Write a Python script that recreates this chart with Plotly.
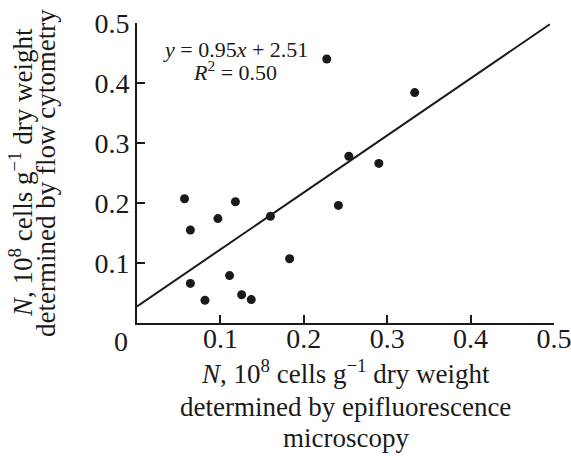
import plotly.graph_objects as go

# Data
x_epi = [0.057, 0.118, 0.097, 0.064, 0.160, 0.183, 0.111, 0.064, 0.0815, 0.1255,
         0.137, 0.2415, 0.2275, 0.333, 0.254, 0.290]
y_flow = [0.207, 0.202, 0.174, 0.155, 0.178, 0.107, 0.079, 0.066, 0.038, 0.047,
          0.039, 0.196, 0.440, 0.384, 0.278, 0.266]

fit_slope = 0.95
fit_intercept = 0.0276
fit_x_range = [0.0, 0.495]

x_tick_vals = [0.1, 0.2, 0.3, 0.4, 0.5]
x_tick_text = ["0.1", "0.2", "0.3", "0.4", "0.5"]
y_tick_vals = [0.1, 0.2, 0.3, 0.4, 0.5]
y_tick_text = ["0.1", "0.2", "0.3", "0.4", "0.5"]

x_title_lines = ["<i>N</i>, 10<sup>8</sup> cells g<sup>\u22121</sup> dry weight",
                 "determined by epifluorescence",
                 "microscopy"]
y_title_lines = ["<i>N</i>, 10<sup>8</sup> cells g<sup>\u22121</sup> dry weight",
                 "determined by flow cytometry"]
eq_lines = ["<i>y</i> = 0.95<i>x</i> + 2.51", "<i>R</i><sup>2</sup> = 0.50"]

FONT = "Liberation Serif"
INK = "#1a1a1a"

fit_y = [fit_slope * v + fit_intercept for v in fit_x_range]

fig = go.Figure()
fig.add_trace(go.Scatter(x=fit_x_range, y=fit_y, mode="lines",
                         line=dict(color=INK, width=2), showlegend=False,
                         hoverinfo="skip"))
fig.add_trace(go.Scatter(x=x_epi, y=y_flow, mode="markers",
                         marker=dict(color=INK, size=9), showlegend=False))

annotations = []
# x-axis origin label
annotations.append(dict(x=0, y=0, xref="x", yref="paper", text="0", showarrow=False,
                        xanchor="center", yanchor="top", xshift=-16, yshift=-1,
                        font=dict(family=FONT, size=28, color=INK)))
# x-axis title (three lines)
for txt, dy in zip(x_title_lines, [-49, -84, -115]):
    annotations.append(dict(x=0.5, y=0, xref="paper", yref="paper", text=txt,
                            showarrow=False, xanchor="center", yanchor="middle",
                            yshift=dy, font=dict(family=FONT, size=27, color=INK)))
# y-axis title (two lines, rotated)
for txt, dx in zip(y_title_lines, [-116, -91]):
    annotations.append(dict(x=0, y=0.5, xref="paper", yref="paper", text=txt,
                            showarrow=False, xanchor="center", yanchor="middle",
                            textangle=-90, xshift=dx,
                            font=dict(family=FONT, size=27, color=INK)))
# regression equation
for txt, yy in zip(eq_lines, [0.4553, 0.4193]):
    annotations.append(dict(x=0.118, y=yy, xref="x", yref="y", text=txt,
                            showarrow=False, xanchor="center", yanchor="middle",
                            font=dict(family=FONT, size=22, color=INK)))

fig.update_layout(
    width=571, height=456,
    margin=dict(l=137, r=17, t=23, b=133, autoexpand=False),
    paper_bgcolor="white", plot_bgcolor="white",
    font=dict(family=FONT, color=INK, size=27),
    xaxis=dict(range=[0, 0.5], showline=True, linecolor=INK, linewidth=2,
               showgrid=False, zeroline=False, ticks="inside", ticklen=8,
               tickwidth=1.5, tickcolor=INK, ticklabeloverflow="allow",
               ticklabelstandoff=-11, automargin=False,
               tickvals=x_tick_vals, ticktext=x_tick_text,
               tickfont=dict(family=FONT, size=28, color=INK)),
    yaxis=dict(range=[0, 0.5], showline=True, linecolor=INK, linewidth=2,
               showgrid=False, zeroline=False, ticks="inside", ticklen=8,
               tickwidth=1.5, tickcolor=INK, ticklabeloverflow="allow",
               automargin=False,
               tickvals=y_tick_vals, ticktext=y_tick_text,
               tickfont=dict(family=FONT, size=28, color=INK)),
    annotations=annotations,
)

fig.write_html("out.html")
